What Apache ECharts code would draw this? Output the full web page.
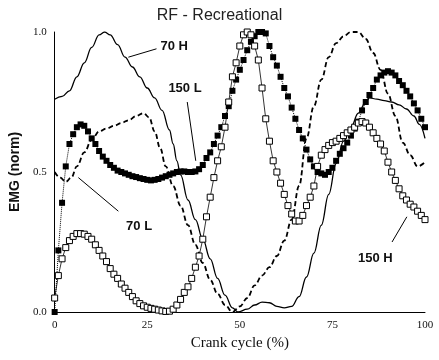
<!DOCTYPE html>
<html><head><meta charset="utf-8">
<script src="https://cdn.jsdelivr.net/npm/echarts@6/dist/echarts.min.js"></script>
<style>html,body{margin:0;padding:0;background:#fff}#c{width:439px;height:360px}</style>
</head><body><div id="c"></div>
<script>
const titleText = 'RF - Recreational';
const xTicks = [0, 25, 50, 75, 100];
const yTicks = [0.0, 0.5, 1.0];

// 70 H (solid line)
const h70x = [0,2,4,6,8,10,12,13.5,15,17,19,21,23,25,27,29,31,32,33,34,36,38,40,42,44,46,48,49.5,52,54,56,58,60,62,64,66,68,70,72,74,76,78,80,82,84,85,87,89,91,93,95,97,98.5,100];
const h70y = [0.76,0.77,0.79,0.84,0.89,0.945,0.99,1.0,0.99,0.955,0.91,0.875,0.84,0.80,0.765,0.72,0.65,0.60,0.54,0.49,0.40,0.33,0.26,0.19,0.12,0.06,0.015,0.0,0.01,0.025,0.035,0.033,0.02,0.015,0.02,0.055,0.125,0.21,0.31,0.42,0.53,0.61,0.66,0.71,0.75,0.765,0.76,0.755,0.75,0.74,0.725,0.70,0.67,0.62];

// 70 L (dashed line)
const l70x = [0,1.5,3,4.5,6,8,10,12,14,16,18,20,22,24,25.5,27,28.5,30,32,34,36,38,40,42,44,46,48,50,52,54,56,58,60,62,64,66,68,70,72,74,76,78,80,82,84,86,88,90,92,94,96,98,100];
const l70y = [0.50,0.48,0.465,0.48,0.52,0.57,0.615,0.645,0.655,0.665,0.675,0.685,0.70,0.71,0.695,0.645,0.585,0.52,0.45,0.38,0.31,0.24,0.175,0.115,0.065,0.025,0.0,0.02,0.05,0.095,0.13,0.16,0.20,0.255,0.33,0.45,0.62,0.735,0.83,0.91,0.96,0.985,1.0,1.0,0.975,0.925,0.865,0.78,0.70,0.605,0.56,0.52,0.535];

// 150 L (filled squares), x = 0..100 step 1
const l150 = [0.0,0.22,0.39,0.52,0.60,0.635,0.66,0.67,0.665,0.645,
  0.62,0.60,0.575,0.555,0.54,0.525,0.515,0.505,0.50,0.495,
  0.49,0.485,0.482,0.478,0.475,0.472,0.47,0.472,0.475,0.48,
  0.485,0.49,0.495,0.50,0.502,0.502,0.50,0.50,0.502,0.51,
  0.525,0.55,0.57,0.60,0.63,0.66,0.70,0.735,0.79,0.83,
  0.865,0.90,0.935,0.965,0.985,1.0,1.0,0.995,0.95,0.91,
  0.88,0.84,0.80,0.77,0.73,0.69,0.65,0.62,0.58,0.545,
  0.52,0.50,0.495,0.49,0.50,0.515,0.54,0.565,0.585,0.605,
  0.63,0.655,0.68,0.72,0.75,0.775,0.80,0.83,0.845,0.855,
  0.86,0.855,0.845,0.825,0.81,0.79,0.77,0.745,0.72,0.69,
  0.66];

// 150 H (open squares), x = 0..100 step 1
const h150 = [0.05,0.13,0.19,0.23,0.255,0.27,0.28,0.28,0.278,0.27,
  0.26,0.24,0.22,0.20,0.18,0.155,0.135,0.12,0.10,0.085,
  0.07,0.055,0.04,0.03,0.022,0.017,0.013,0.01,0.007,0.004,
  0.002,0.003,0.01,0.025,0.045,0.07,0.09,0.12,0.16,0.20,
  0.26,0.34,0.41,0.48,0.54,0.59,0.66,0.75,0.84,0.89,
  0.95,0.99,1.0,0.99,0.95,0.90,0.80,0.69,0.61,0.54,
  0.50,0.46,0.42,0.38,0.35,0.325,0.325,0.345,0.38,0.41,
  0.45,0.52,0.56,0.58,0.595,0.605,0.61,0.62,0.63,0.64,
  0.65,0.66,0.675,0.68,0.675,0.66,0.64,0.62,0.60,0.575,
  0.535,0.50,0.47,0.44,0.415,0.40,0.385,0.375,0.36,0.345,
  0.33];

// annotation labels (data coordinates)
const annotations = [
  {text: '70 H',  at: [32.3, 0.95], from: [19.9, 0.91], to: [27.5, 0.94]},
  {text: '150 L', at: [35.2, 0.80], from: [35.8, 0.75], to: [38.1, 0.54]},
  {text: '70 L',  at: [22.8, 0.305], from: [6.4, 0.48], to: [17.2, 0.36]},
  {text: '150 H', at: [86.6, 0.19], from: [95.1, 0.34], to: [91.1, 0.25]}
];

const pairs = (xs, ys) => xs.map((x, i) => [x, ys[i]]);
const idx = arr => arr.map((v, i) => [i, v]);

const chart = echarts.init(document.getElementById('c'), null, {renderer: 'canvas'});
chart.setOption({
  animation: false,
  backgroundColor: '#fff',
  title: {text: titleText, left: 'center', top: 3, textStyle: {fontFamily: 'Liberation Sans', fontSize: 16, fontWeight: 'normal', color: '#222'}},
  grid: {left: 48, right: 14, top: 32, bottom: 48},
  xAxis: {
    type: 'value', min: 0, max: 100, interval: 25,
    name: 'Crank cycle (%)', nameLocation: 'middle', nameGap: 23,
    nameTextStyle: {fontFamily: 'Liberation Serif', fontSize: 15, color: '#111'},
    axisLine: {lineStyle: {color: '#000', width: 1}},
    axisTick: {show: false}, splitLine: {show: false},
    axisLabel: {fontFamily: 'Liberation Serif', fontSize: 11, color: '#111', margin: 8}
  },
  yAxis: {
    type: 'value', min: 0, max: 1, interval: 0.5,
    name: 'EMG (norm)', nameLocation: 'middle', nameGap: 30, nameRotate: 90,
    nameTextStyle: {fontFamily: 'Liberation Sans', fontSize: 14, fontWeight: 'bold', color: '#111'},
    axisLine: {show: true, lineStyle: {color: '#000', width: 1}},
    axisTick: {show: false}, splitLine: {show: false},
    axisLabel: {fontFamily: 'Liberation Serif', fontSize: 11, color: '#111', margin: 8, formatter: v => v.toFixed(1)}
  },
  series: [
    {name: '70 H', type: 'line', data: pairs(h70x, h70y), smooth: 0.4, smoothMonotone: 'x', showSymbol: false,
     lineStyle: {color: '#000', width: 1.3}},
    {name: '70 L', type: 'line', data: pairs(l70x, l70y), smooth: 0.4, smoothMonotone: 'x', showSymbol: false,
     lineStyle: {color: '#000', width: 1.8, type: [5, 3]}},
    {name: '150 L', type: 'line', data: idx(l150), symbol: 'rect', symbolSize: [6, 6], showAllSymbol: true,
     itemStyle: {color: '#000'}, lineStyle: {color: '#000', width: 1, type: 'dotted'}},
    {name: '150 H', type: 'line', data: idx(h150), symbol: 'rect', symbolSize: 6, showAllSymbol: true,
     itemStyle: {color: '#fff', borderColor: '#000', borderWidth: 1}, lineStyle: {color: '#000', width: 0.8}}
  ]
});

const g = [];
annotations.forEach(a => {
  const p = chart.convertToPixel({gridIndex: 0}, a.at);
  const f = chart.convertToPixel({gridIndex: 0}, a.from);
  const t = chart.convertToPixel({gridIndex: 0}, a.to);
  g.push({type: 'line', shape: {x1: f[0], y1: f[1], x2: t[0], y2: t[1]}, style: {stroke: '#000', lineWidth: 1}, z: 10});
  g.push({type: 'text', x: p[0], y: p[1], style: {text: a.text, fill: '#111', font: 'bold 13px "Liberation Sans"', textAlign: 'center', textVerticalAlign: 'middle'}, z: 10});
});
chart.setOption({graphic: g});
</script>
</body></html>
